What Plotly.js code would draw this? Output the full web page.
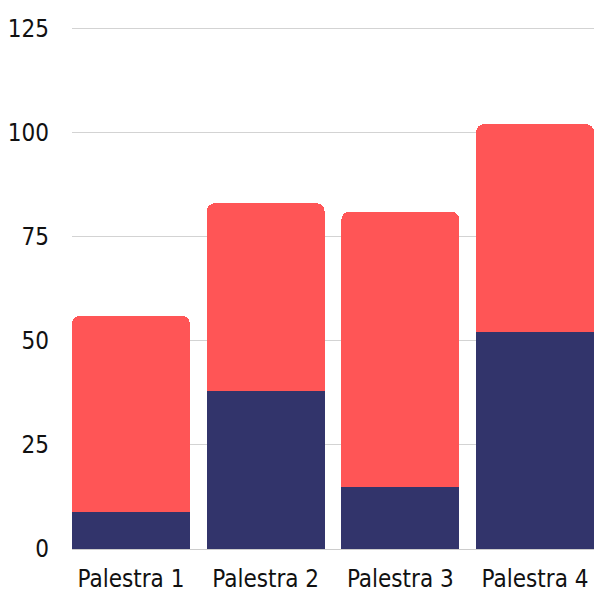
<!DOCTYPE html>
<html>
<head>
<meta charset="utf-8">
<script src="https://cdn.plot.ly/plotly-3.0.1.min.js"></script>
<style>html,body{margin:0;padding:0;background:#fff;}#chart{width:595px;height:595px;}</style>
</head>
<body>
<div id="chart"></div>
<script>
const categories = ["Palestra 1", "Palestra 2", "Palestra 3", "Palestra 4"];
const bottomValues = [9, 38, 15, 52];
const topValues = [47, 45, 66, 50];
const yTicks = [0, 25, 50, 75, 100, 125];

const fontFamily = '"DejaVu Sans Condensed", "Liberation Sans Narrow", sans-serif';

const traces = [
  {type: 'bar', x: categories, y: bottomValues, marker: {color: '#32346b', line: {width: 0}}, hoverinfo: 'none'},
  {type: 'bar', x: categories, y: topValues, marker: {color: '#ff5556', line: {width: 0}, cornerradius: 8}, hoverinfo: 'none'}
];

const layout = {
  width: 595, height: 595,
  margin: {l: 72, r: 1, t: 27, b: 46},
  barmode: 'stack',
  bargap: 0.125,
  showlegend: false,
  paper_bgcolor: '#ffffff',
  plot_bgcolor: '#ffffff',
  font: {family: fontFamily, size: 24, color: '#111111'},
  xaxis: {
    range: [-0.4375, 3.4375],
    showgrid: false,
    showline: true,
    linecolor: '#cccccc',
    linewidth: 1,
    ticks: '',
    ticklabelstandoff: 8,
    tickfont: {family: fontFamily, size: 24, color: '#111111'},
    fixedrange: true
  },
  yaxis: {
    range: [0, 125.3],
    tickvals: yTicks,
    ticktext: yTicks.map(String),
    showgrid: true,
    gridcolor: '#d3d3d3',
    gridwidth: 1,
    zeroline: false,
    showline: false,
    ticks: '',
    ticklabelstandoff: 22,
    tickfont: {family: fontFamily, size: 24, color: '#111111'},
    fixedrange: true
  }
};

Plotly.newPlot('chart', traces, layout, {displayModeBar: false, staticPlot: true});
</script>
</body>
</html>
